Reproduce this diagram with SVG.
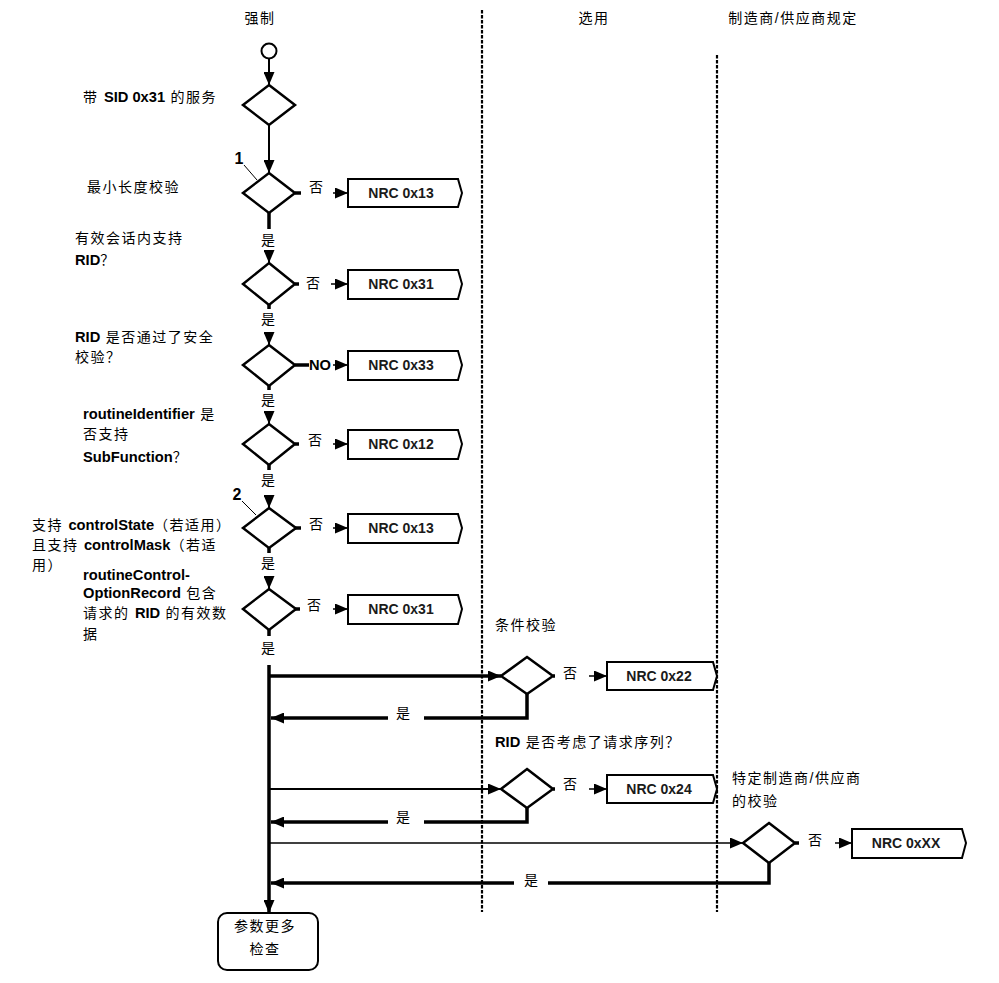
<svg xmlns="http://www.w3.org/2000/svg" width="999" height="983" viewBox="0 0 999 983">
<style>
text{font-family:"Liberation Sans","Noto Sans CJK SC",sans-serif;font-size:14px;fill:#000}
.cn{letter-spacing:1.5px}
.b{font-weight:bold;letter-spacing:0;font-size:14.7px}
.nrc{font-weight:bold;font-size:14px;text-anchor:middle;fill:#1a1a1a}
.mid{text-anchor:middle}
.num{font-weight:bold;font-size:16px;text-anchor:middle}
.dia{fill:#fff;stroke:#000;stroke-width:2.5}
.box{fill:#fff;stroke:#000;stroke-width:2}
.th{stroke:#000;stroke-width:3.5;fill:none}
.md{stroke:#000;stroke-width:2;fill:none}
.tn{stroke:#000;stroke-width:1.5;fill:none}
.dash{stroke:#000;stroke-width:2.2;stroke-dasharray:3.5 1.5;fill:none}
</style>
<defs>
<marker id="ah" markerUnits="userSpaceOnUse" markerWidth="13" markerHeight="11" refX="13" refY="5.5" orient="auto">
<path d="M0,0 L13,5.5 L0,11 z" fill="#000"/>
</marker>
</defs>

<g id="headers">
<text x="260" y="23" class="mid cn">强制</text>
<text x="594" y="23" class="mid cn">选用</text>
<text x="793" y="23" class="mid cn">制造商/供应商规定</text>
</g>

<g id="lanes">
<line class="dash" x1="482" y1="10" x2="482" y2="912"/>
<line class="dash" x1="717" y1="55" x2="717" y2="912"/>
</g>

<g id="connectors">
<line class="md" x1="269" y1="59" x2="269" y2="85" marker-end="url(#ah)"/>
<line class="md" x1="269" y1="125" x2="269" y2="173" marker-end="url(#ah)"/>
<line class="th" x1="269" y1="212" x2="269" y2="229"/>
<line class="md" x1="269" y1="251" x2="269" y2="263" marker-end="url(#ah)"/>
<line class="th" x1="269" y1="305" x2="269" y2="309"/>
<line class="md" x1="269" y1="332" x2="269" y2="345" marker-end="url(#ah)"/>
<line class="th" x1="269" y1="386" x2="269" y2="390"/>
<line class="md" x1="269" y1="411" x2="269" y2="424" marker-end="url(#ah)"/>
<line class="th" x1="269" y1="465" x2="269" y2="470"/>
<line class="md" x1="269" y1="495" x2="269" y2="508" marker-end="url(#ah)"/>
<line class="th" x1="269" y1="548" x2="269" y2="553"/>
<line class="md" x1="269" y1="576" x2="269" y2="589" marker-end="url(#ah)"/>
<line class="th" x1="269" y1="630" x2="269" y2="636"/>
<line class="th" x1="295" y1="193" x2="301" y2="193"/>
<line class="tn" x1="333" y1="193" x2="348" y2="193" marker-end="url(#ah)"/>
<line class="th" x1="295" y1="284" x2="299" y2="284"/>
<line class="tn" x1="331" y1="284" x2="348" y2="284" marker-end="url(#ah)"/>
<line class="th" x1="295" y1="365" x2="309" y2="365"/>
<line class="tn" x1="333" y1="365" x2="348" y2="365" marker-end="url(#ah)"/>
<line class="th" x1="295" y1="444" x2="299" y2="444"/>
<line class="tn" x1="333" y1="444" x2="348" y2="444" marker-end="url(#ah)"/>
<line class="th" x1="295" y1="528" x2="301" y2="528"/>
<line class="tn" x1="333" y1="528" x2="348" y2="528" marker-end="url(#ah)"/>
<line class="th" x1="295" y1="609" x2="300" y2="609"/>
<line class="tn" x1="333" y1="609" x2="348" y2="609" marker-end="url(#ah)"/>
<line class="th" x1="269" y1="665" x2="269" y2="913" marker-end="url(#ah)"/>
<line class="th" x1="269" y1="676" x2="501" y2="676" marker-end="url(#ah)"/>
<line class="th" x1="553" y1="676" x2="555" y2="676"/>
<line class="tn" x1="589" y1="676" x2="607" y2="676" marker-end="url(#ah)"/>
<polyline class="th" points="527,693 527,718 424,718"/>
<line class="th" x1="388" y1="718" x2="271" y2="718" marker-end="url(#ah)"/>
<line class="md" x1="269" y1="789" x2="501" y2="789" marker-end="url(#ah)"/>
<line class="th" x1="553" y1="789" x2="555" y2="789"/>
<line class="tn" x1="589" y1="789" x2="607" y2="789" marker-end="url(#ah)"/>
<polyline class="th" points="527,808 527,822 424,822"/>
<line class="th" x1="388" y1="822" x2="271" y2="822" marker-end="url(#ah)"/>
<line class="tn" x1="269" y1="843" x2="743" y2="843" marker-end="url(#ah)"/>
<line class="th" x1="795" y1="843" x2="799" y2="843"/>
<line class="tn" x1="835" y1="843" x2="852" y2="843" marker-end="url(#ah)"/>
<polyline class="th" points="769,863 769,883 548,883"/>
<line class="th" x1="514" y1="883" x2="271" y2="883" marker-end="url(#ah)"/>
<line stroke="#000" stroke-width="1" x1="244" y1="165" x2="257" y2="180"/>
<line stroke="#000" stroke-width="1" x1="242" y1="501" x2="256" y2="515"/>
</g>

<g id="start"><circle cx="269" cy="51" r="7.5" fill="#fff" stroke="#000" stroke-width="2"/></g>

<g id="d1"><polygon class="dia" points="269,85 295,105 269,125 243,105"/>
<text x="83" y="102" class="cn">带 <tspan class="b">SID 0x31</tspan> 的服务</text></g>

<g id="d2"><polygon class="dia" points="269,173 295,193 269,213 243,193"/>
<text x="239" y="164" class="num">1</text>
<text x="87" y="192" class="cn">最小长度校验</text>
<text x="316" y="192" class="mid">否</text></g>

<g id="d3"><polygon class="dia" points="269,263 295,284 269,305 243,284"/>
<text x="268" y="245" class="mid">是</text>
<text x="75" y="243" class="cn">有效会话内支持</text>
<text x="75" y="265"><tspan class="b">RID</tspan>？</text>
<text x="313" y="288" class="mid">否</text></g>

<g id="d4"><polygon class="dia" points="269,345 295,365 269,386 243,365"/>
<text x="268" y="324" class="mid">是</text>
<text x="75" y="342" class="cn"><tspan class="b">RID</tspan> 是否通过了安全</text>
<text x="75" y="362" class="cn">校验？</text>
<text x="309" y="370" class="b">NO</text></g>

<g id="d5"><polygon class="dia" points="269,424 295,444 269,465 243,444"/>
<text x="268" y="405" class="mid">是</text>
<text x="83" y="419" class="cn"><tspan class="b">routineIdentifier</tspan> 是</text>
<text x="83" y="439" class="cn">否支持</text>
<text x="83" y="462"><tspan class="b">SubFunction</tspan>？</text>
<text x="315" y="445" class="mid">否</text></g>

<g id="d6"><polygon class="dia" points="269,508 296,528 269,548 243,528"/>
<text x="268" y="485" class="mid">是</text>
<text x="237" y="500" class="num">2</text>
<text x="32" y="530" class="cn">支持 <tspan class="b">controlState</tspan>（若适用）</text>
<text x="32" y="550" class="cn">且支持 <tspan class="b">controlMask</tspan>（若适</text>
<text x="32" y="570" class="cn">用）</text>
<text x="316" y="529" class="mid">否</text></g>

<g id="d7"><polygon class="dia" points="269,589 296,609 269,630 243,609"/>
<text x="268" y="568" class="mid">是</text>
<text x="83" y="580" class="b">routineControl-</text>
<text x="83" y="598" class="cn"><tspan class="b">OptionRecord</tspan> 包含</text>
<text x="83" y="618" class="cn">请求的 <tspan class="b">RID</tspan> 的有效数</text>
<text x="83" y="639" class="cn">据</text>
<text x="314" y="610" class="mid">否</text>
<text x="268" y="653" class="mid">是</text></g>

<g id="nrc13a"><path class="box" d="M348,179 H458 L462,193 L458,207 H348 Z"/><text x="401" y="198" class="nrc">NRC 0x13</text></g>
<g id="nrc31a"><path class="box" d="M348,270 H458 L462,284 L458,299 H348 Z"/><text x="401" y="289" class="nrc">NRC 0x31</text></g>
<g id="nrc33"><path class="box" d="M348,351 H458 L462,365 L458,380 H348 Z"/><text x="401" y="370" class="nrc">NRC 0x33</text></g>
<g id="nrc12"><path class="box" d="M348,430 H458 L462,444 L458,459 H348 Z"/><text x="401" y="449" class="nrc">NRC 0x12</text></g>
<g id="nrc13b"><path class="box" d="M348,514 H458 L462,528 L458,543 H348 Z"/><text x="401" y="533" class="nrc">NRC 0x13</text></g>
<g id="nrc31b"><path class="box" d="M348,595 H458 L462,609 L458,624 H348 Z"/><text x="401" y="614" class="nrc">NRC 0x31</text></g>

<g id="d8"><polygon class="dia" points="527,657 553,676 527,694 501,676"/>
<text x="495" y="630" class="cn">条件校验</text>
<text x="570" y="678" class="mid">否</text>
<text x="403" y="718" class="mid">是</text></g>
<g id="nrc22"><path class="box" d="M607,662 H713 L717,676 L713,690 H607 Z"/><text x="659" y="681" class="nrc">NRC 0x22</text></g>

<g id="d9"><polygon class="dia" points="527,769 553,789 527,808 501,789"/>
<text x="495" y="747" class="cn"><tspan class="b">RID</tspan> 是否考虑了请求序列？</text>
<text x="570" y="789" class="mid">否</text>
<text x="403" y="822" class="mid">是</text></g>
<g id="nrc24"><path class="box" d="M607,775 H713 L717,789 L713,803 H607 Z"/><text x="659" y="794" class="nrc">NRC 0x24</text></g>

<g id="d10"><polygon class="dia" points="769,823 795,843 769,863 743,843"/>
<text x="732" y="783" class="cn">特定制造商/供应商</text>
<text x="732" y="806" class="cn">的校验</text>
<text x="815" y="845" class="mid">否</text>
<text x="531" y="885" class="mid">是</text></g>
<g id="nrcxx"><path class="box" d="M852,829 H962 L966,843 L962,858 H852 Z"/><text x="906" y="848" class="nrc">NRC 0xXX</text></g>

<g id="end"><rect x="218" y="913" width="100" height="57" rx="9" class="box"/>
<text x="265" y="931" class="mid cn">参数更多</text>
<text x="265" y="954" class="mid cn">检查</text></g>
</svg>
